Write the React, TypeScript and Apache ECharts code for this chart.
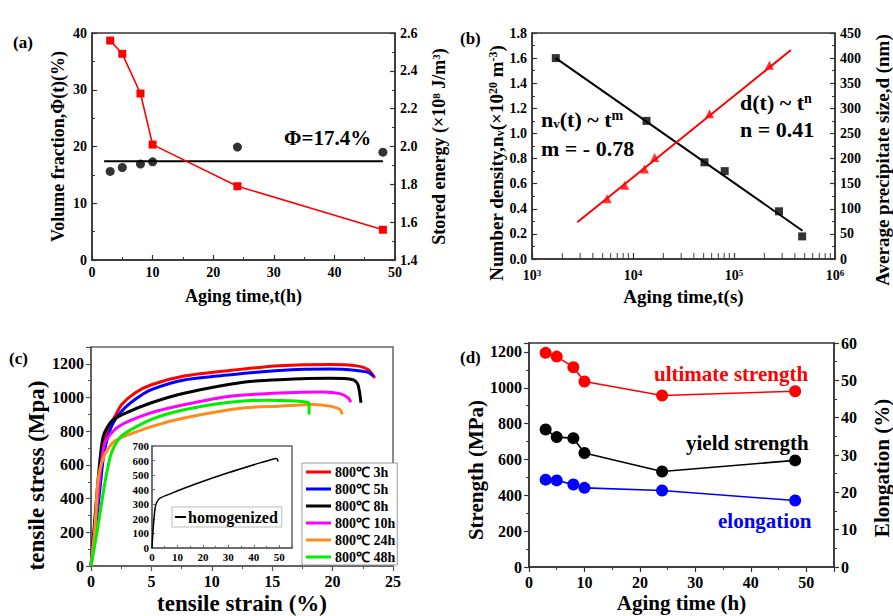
import React, { useEffect, useRef } from 'react';
import * as echarts from 'echarts';

const FONT = "'Liberation Serif', 'Times New Roman', serif";

// ---------- (a) ----------
const agingA = [3, 5, 8, 10, 24, 48];
const volumeFractionA = [15.6, 16.3, 16.9, 17.3, 19.9, 19.0];
const storedEnergyA = [2.56, 2.49, 2.28, 2.01, 1.79, 1.56];
const meanPhiA = 17.4;
const meanLineXA = [2, 48];

// ---------- (b) ----------
const timeDensityB = [1720, 13600, 51000, 80900, 279000, 473000];
const densityB = [1.6, 1.1, 0.77, 0.7, 0.38, 0.18];
const densityFitB = [[1720, 1.6], [477000, 0.225]];
const timeSizeB = [5550, 8280, 13000, 16400, 57200, 224000];
const sizeB = [120, 147, 179, 202, 289, 386];
const sizeFitB = [[2810, 73], [366000, 416]];
const logMinorTicksB = [2e3, 3e3, 4e3, 5e3, 6e3, 7e3, 8e3, 9e3, 2e4, 3e4, 4e4, 5e4, 6e4, 7e4, 8e4, 9e4, 2e5, 3e5, 4e5, 5e5, 6e5, 7e5, 8e5, 9e5];

// ---------- (c) ----------
const curve3h = [[0, 0], [0.5, 350], [0.8, 560], [1.1, 720], [1.43, 812], [2.0, 890], [2.54, 959], [3.64, 1027], [5.0, 1076], [7.8, 1129], [11.5, 1161], [15.6, 1188], [19.8, 1196], [22.0, 1188], [22.96, 1165], [23.5, 1116]];
const curve5h = [[0, 0], [0.5, 300], [0.8, 500], [1.1, 680], [1.71, 831], [2.54, 919], [3.64, 988], [5.0, 1047], [7.8, 1106], [11.5, 1135], [15.6, 1161], [19.8, 1169], [22.0, 1161], [22.96, 1149], [23.4, 1125]];
const curve8h = [[0, 0], [0.4, 350], [0.7, 600], [1.02, 772], [1.71, 861], [2.81, 906], [5.0, 969], [7.8, 1027], [12.75, 1092], [15.6, 1106], [19.8, 1114], [21.7, 1106], [22.1, 1076], [22.35, 969]];
const curve10h = [[0, 0], [0.5, 350], [0.8, 570], [1.16, 733], [2.26, 827], [5.0, 910], [7.8, 959], [11.5, 1008], [15.6, 1027], [19.2, 1033], [20.6, 1023], [21.3, 998], [21.5, 972]];
const curve24h = [[0, 0], [0.3, 200], [0.6, 518], [1.16, 665], [1.99, 743], [5.0, 827], [7.8, 880], [12.75, 939], [15.6, 949], [18.4, 959], [19.8, 949], [20.6, 929], [20.8, 900]];
const curve48h = [[0, 0], [0.5, 200], [1.16, 498], [1.71, 675], [2.54, 772], [5.0, 870], [7.8, 929], [11.5, 972], [14.3, 984], [17.0, 980], [17.9, 972], [18.05, 968], [18.05, 900]];
const curveHomogenized = [[0, 0], [0.4, 120], [0.8, 205], [1.2, 270], [1.7, 307], [3.0, 341], [7.6, 375], [16.8, 437], [29.9, 516], [43, 587], [47, 607], [48.5, 614], [49.2, 610], [49.5, 592]];
const curveNames = ['800℃ 3h', '800℃ 5h', '800℃ 8h', '800℃ 10h', '800℃ 24h', '800℃ 48h'];
const curveColors = ['#ff0000', '#0000ff', '#000000', '#ff00ff', '#ff8c1a', '#00ee00'];
const curvesC = [curve3h, curve5h, curve8h, curve10h, curve24h, curve48h];

// ---------- (d) ----------
const agingD = [3, 5, 8, 10, 24, 48];
const ultimateD = [1195, 1174, 1115, 1035, 957, 981];
const yieldD = [767, 725, 719, 636, 533, 595];
const elongationD = [23.4, 23.2, 22.1, 21.2, 20.5, 17.8];

const zip = (xs: number[], ys: number[]) => xs.map((x, i) => [x, ys[i]]);

const sup = (size: number) => ({ fontSize: size, fontWeight: 'bold', fontFamily: FONT, verticalAlign: 'top', color: '#000' });
const sub = (size: number) => ({ fontSize: size, fontWeight: 'bold', fontFamily: FONT, verticalAlign: 'bottom', color: '#000' });

function axisStyle(inside: boolean, fontSize: number, nameSize: number, lineColor = '#333', namePad = 0) {
  return {
    axisLine: { show: true, onZero: false, lineStyle: { color: lineColor, width: 1.5 } },
    axisTick: { show: true, inside, length: 5, lineStyle: { color: lineColor, width: 1.2 } },
    minorTick: { show: true, splitNumber: 2, length: 3, lineStyle: { color: lineColor, width: 1 } },
    splitLine: { show: false },
    minorSplitLine: { show: false },
    axisLabel: {
      color: '#000', fontFamily: FONT, fontWeight: 'bold', fontSize, margin: inside ? 5 : 7, showMaxLabel: true,
      formatter: (v: number) => `${v}`,
    },
    nameLocation: 'middle',
    nameTextStyle: {
      color: '#000', fontFamily: FONT, fontWeight: 'bold', fontSize: nameSize,
      padding: [0, namePad, 0, 0],
      rich: { sup: sup(Math.round(nameSize * 0.62)), sub: sub(Math.round(nameSize * 0.62)) },
    },
  };
}

function textEl(text: string, x: number, y: number, size: number, color = '#000', rich?: any) {
  return {
    type: 'text',
    x,
    y,
    z: 100,
    style: {
      text,
      fill: color,
      fontFamily: FONT,
      fontWeight: 'bold',
      fontSize: size,
      textVerticalAlign: 'middle',
      rich,
    },
  };
}

export default function App() {
  const ref = useRef<HTMLDivElement>(null);
  useEffect(() => {
    if (!ref.current) return;
    const chart = echarts.init(ref.current, undefined, { renderer: 'svg' });

    const grids = [
      { left: 92, top: 33, width: 303, height: 227 },
      { left: 532, top: 33, width: 305, height: 226 },
      { left: 91, top: 347, width: 302, height: 221 },
      { left: 529, top: 343, width: 307, height: 224 },
      { left: 152, top: 446, width: 140, height: 102 },
    ].map((g, i) => ({
      ...g,
      show: true,
      backgroundColor: i === 4 ? '#fff' : 'transparent',
      borderColor: i >= 2 && i !== 3 ? '#666' : '#333',
      borderWidth: 1.5,
      containLabel: false,
    }));

    const xAxes: any[] = [
      {
        ...axisStyle(true, 14, 18), gridIndex: 0, type: 'value', min: 0, max: 50, interval: 10,
        name: 'Aging time,t(h)', nameGap: 27,
      },
      {
        ...axisStyle(true, 14, 19), gridIndex: 1, type: 'log', logBase: 10, min: 1000, max: 1000000,
        minorTick: { show: false },
        axisTick: { show: true, inside: true, length: 6, lineStyle: { color: '#333', width: 1.2 } },
        axisLabel: {
          color: '#000', fontFamily: FONT, fontWeight: 'bold', fontSize: 14, margin: 9,
          formatter: (v: number) => `10{sup|${Math.round(Math.log10(v))}}`,
          rich: { sup: sup(9) },
        },
        name: 'Aging time,t(s)', nameGap: 28,
      },
      {
        ...axisStyle(false, 16, 23, '#555'), gridIndex: 2, type: 'value', min: 0, max: 25, interval: 5,
        name: 'tensile strain (%)', nameGap: 26,
      },
      {
        ...axisStyle(false, 16, 21), gridIndex: 3, type: 'value', min: 0, max: 55, interval: 10,
        name: 'Aging time (h)', nameGap: 25,
      },
      {
        ...axisStyle(true, 11, 11, '#666'), gridIndex: 4, type: 'value', min: 0, max: 55, interval: 10,
        axisTick: { show: true, inside: true, length: 3, lineStyle: { color: '#666' } },
        minorTick: { show: true, splitNumber: 2, length: 2, lineStyle: { color: '#666' } },
      },
    ];
    xAxes[3].axisLabel = { ...xAxes[3].axisLabel, showMaxLabel: false };
    xAxes[4].axisLabel = { ...xAxes[4].axisLabel, showMaxLabel: false, margin: 3 };

    const yAxes: any[] = [
      {
        ...axisStyle(true, 14, 18), gridIndex: 0, type: 'value', min: 0, max: 40, interval: 10,
        name: 'Volume fraction,Φ(t)(%)', nameGap: 25,
      },
      {
        ...axisStyle(true, 14, 18), gridIndex: 0, type: 'value', position: 'right', min: 1.4, max: 2.6, interval: 0.2,
        name: 'Stored energy (×10{sup|8} J/m{sup|3})', nameGap: 35,
      },
      {
        ...axisStyle(true, 14, 19, '#333', 34), gridIndex: 1, type: 'value', min: 0, max: 1.8, interval: 0.2,
        name: 'Number density,n{sub|v}(×10{sup|20} m{sup|-3})', nameGap: 25,
      },
      {
        ...axisStyle(true, 14, 19, '#333', 28), gridIndex: 1, type: 'value', position: 'right', min: 0, max: 450, interval: 50,
        name: 'Average precipitate size,d (nm)', nameGap: 38,
      },
      {
        ...axisStyle(false, 16, 23, '#555', 38), gridIndex: 2, type: 'value', min: 0, max: 1300, interval: 200,
        name: 'tensile stress (Mpa)', nameGap: 41,
      },
      {
        ...axisStyle(false, 16, 21, '#333', 30), gridIndex: 3, type: 'value', min: 0, max: 1250, interval: 200,
        name: 'Strength (MPa)', nameGap: 33,
      },
      {
        ...axisStyle(false, 16, 21, '#333', 26), gridIndex: 3, type: 'value', position: 'right', min: 0, max: 60, interval: 10,
        name: 'Elongation (%)', nameGap: 37,
      },
      {
        ...axisStyle(true, 11, 11, '#666'), gridIndex: 4, type: 'value', min: 0, max: 700, interval: 100,
        axisTick: { show: true, inside: true, length: 3, lineStyle: { color: '#666' } },
        minorTick: { show: false },
      },
    ];
    yAxes[1].axisLabel = { ...yAxes[1].axisLabel, formatter: (v: number) => v.toFixed(1) };
    yAxes[2].axisLabel = { ...yAxes[2].axisLabel, formatter: (v: number) => v.toFixed(1) };
    yAxes[4].axisLabel = { ...yAxes[4].axisLabel, showMaxLabel: false };
    yAxes[5].axisLabel = { ...yAxes[5].axisLabel, showMaxLabel: false };
    yAxes[7].axisLabel = { ...yAxes[7].axisLabel, margin: 3 };

    const series: any[] = [
      // (a)
      {
        type: 'line', xAxisIndex: 0, yAxisIndex: 0, symbol: 'none',
        data: meanLineXA.map((x) => [x, meanPhiA]),
        lineStyle: { color: '#000', width: 2 },
      },
      {
        type: 'scatter', xAxisIndex: 0, yAxisIndex: 0, symbol: 'circle', symbolSize: 9,
        data: zip(agingA, volumeFractionA), itemStyle: { color: '#000' },
      },
      {
        type: 'line', xAxisIndex: 0, yAxisIndex: 1, symbol: 'rect', symbolSize: 8,
        data: zip(agingA, storedEnergyA), lineStyle: { color: '#ff0000', width: 1.6 }, itemStyle: { color: '#ff0000' },
      },
      // (b)
      {
        type: 'line', xAxisIndex: 1, yAxisIndex: 2, symbol: 'none', data: densityFitB,
        lineStyle: { color: '#000', width: 2 },
      },
      {
        type: 'scatter', xAxisIndex: 1, yAxisIndex: 2, symbol: 'rect', symbolSize: 8,
        data: zip(timeDensityB, densityB), itemStyle: { color: '#000' },
      },
      {
        type: 'line', xAxisIndex: 1, yAxisIndex: 3, symbol: 'none', data: sizeFitB,
        lineStyle: { color: '#ff0000', width: 2 },
      },
      {
        type: 'scatter', xAxisIndex: 1, yAxisIndex: 3, symbol: 'triangle', symbolSize: 9,
        data: zip(timeSizeB, sizeB), itemStyle: { color: '#ff0000' },
      },
      {
        type: 'scatter', xAxisIndex: 1, yAxisIndex: 2, symbol: 'rect', symbolSize: [1.2, 6],
        symbolOffset: [0, -3], silent: true, clip: false,
        data: logMinorTicksB.map((t) => [t, 0]), itemStyle: { color: '#333' },
      },
      // (c)
      ...curvesC.map((c, i) => ({
        type: 'line', name: curveNames[i], xAxisIndex: 2, yAxisIndex: 4, symbol: 'none', smooth: 0.25,
        data: c, color: curveColors[i], lineStyle: { color: curveColors[i], width: 3 },
      })),
      {
        type: 'line', name: 'homogenized', xAxisIndex: 4, yAxisIndex: 7, symbol: 'none', smooth: 0.25,
        data: curveHomogenized, color: '#000', lineStyle: { color: '#000', width: 1.5 }, z: 5,
      },
      // (d)
      {
        type: 'line', xAxisIndex: 3, yAxisIndex: 5, symbol: 'circle', symbolSize: 12,
        data: zip(agingD, ultimateD), lineStyle: { color: '#ff0000', width: 1.6 }, itemStyle: { color: '#ff0000' },
      },
      {
        type: 'line', xAxisIndex: 3, yAxisIndex: 5, symbol: 'circle', symbolSize: 12,
        data: zip(agingD, yieldD), lineStyle: { color: '#000', width: 1.6 }, itemStyle: { color: '#000' },
      },
      {
        type: 'line', xAxisIndex: 3, yAxisIndex: 6, symbol: 'circle', symbolSize: 12,
        data: zip(agingD, elongationD), lineStyle: { color: '#0000ff', width: 1.6 }, itemStyle: { color: '#0000ff' },
      },
    ];

    const legendText = { fontFamily: FONT, fontWeight: 'bold', color: '#000' };

    const option: any = {
      animation: false,
      backgroundColor: '#fff',
      grid: grids,
      xAxis: xAxes,
      yAxis: yAxes,
      series,
      legend: [
        {
          data: curveNames, orient: 'vertical', left: 302, top: 463, icon: 'rect', itemWidth: 25, itemHeight: 3, itemGap: 3,
          padding: [2, 2, 1, 4], borderColor: '#999', borderWidth: 1, backgroundColor: '#fff',
          textStyle: { ...legendText, fontSize: 14, lineHeight: 12, padding: [0, 0, 0, -1] }, selectedMode: false,
        },
        {
          data: ['homogenized'], orient: 'vertical', left: 172, top: 507, icon: 'rect', itemWidth: 11, itemHeight: 2, itemGap: 0,
          padding: [2, 4, 2, 3], borderColor: '#bbb', borderWidth: 1, backgroundColor: '#fff',
          textStyle: { ...legendText, fontSize: 16, padding: [0, 0, 0, -3] }, selectedMode: false,
        },
      ],
      graphic: [
        textEl('(a)', 13, 42, 17),
        textEl('Φ=17.4%', 284, 138, 21),
        textEl('(b)', 460, 38, 17),
        textEl('n{sub|v}(t) ~ t{sup|m}', 541, 119, 22, '#000', { sub: sub(13), sup: sup(14) }),
        textEl('m = - 0.78', 541, 148, 22),
        textEl('d(t) ~ t{sup|n}', 740, 102, 22, '#000', { sup: sup(14) }),
        textEl('n = 0.41', 740, 129, 22),
        textEl('(c)', 9, 358, 17),
        textEl('(d)', 460, 357, 17),
        textEl('ultimate strength', 654, 374, 21, '#ff0000'),
        textEl('yield strength', 686, 443, 21, '#000'),
        textEl('elongation', 718, 521, 21, '#0000ff'),
      ],
    };
    chart.setOption(option);
    return () => chart.dispose();
  }, []);

  return <div ref={ref} style={{ position: 'fixed', left: 0, top: 0, width: 893, height: 616, background: '#fff' }} />;
}
